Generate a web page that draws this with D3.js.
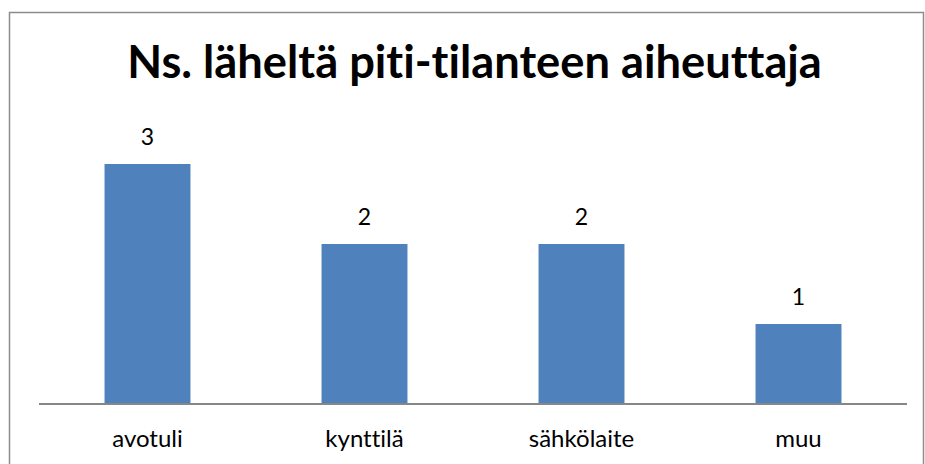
<!DOCTYPE html>
<html><head><meta charset="utf-8">
<script src="https://cdn.jsdelivr.net/npm/d3@7"></script>
<style>body{margin:0;background:#fff}svg{display:block}text{font-variant-ligatures:none;font-feature-settings:"liga" 0,"clig" 0}</style>
</head><body>
<script>
const title = "Ns. läheltä piti-tilanteen aiheuttaja";
const categories = ["avotuli", "kynttilä", "sähkölaite", "muu"];
const values = [3, 2, 2, 1];

const W = 925, H = 464;
const FONT = "Lato, 'Open Sans', sans-serif";
const svg = d3.select("body").append("svg").attr("width", W).attr("height", H);

// outer frame
svg.append("rect").attr("x", 9.5).attr("y", 12.5).attr("width", 914).attr("height", 470)
  .attr("fill", "#fff").attr("stroke", "#8c8c8c").attr("stroke-width", 1.5);

const x = d3.scaleBand().domain(categories).range([39, 907]).paddingInner(0.604).paddingOuter(0.302);
const y = d3.scaleLinear().domain([0, 3]).range([404, 164]);

svg.selectAll("rect.bar").data(values).join("rect").attr("class", "bar")
  .attr("x", (d, i) => x(categories[i])).attr("width", x.bandwidth())
  .attr("y", d => y(d)).attr("height", d => y(0) - y(d))
  .attr("fill", "#4F81BD");

svg.selectAll("text.val").data(values).join("text").attr("class", "val")
  .attr("x", (d, i) => x(categories[i]) + x.bandwidth() / 2)
  .attr("y", d => y(d) - 19)
  .attr("text-anchor", "middle")
  .attr("font-family", FONT).attr("font-size", 23).attr("fill", "#000")
  .text(d => d);

const axis = svg.append("g").attr("transform", "translate(0,404)")
  .call(d3.axisBottom(x).tickSize(0).tickPadding(0));
axis.select(".domain").attr("stroke", "#868686").attr("stroke-width", 2).attr("d", "M39,0H907");
axis.selectAll(".tick text").attr("dy", null).attr("y", 43)
  .attr("font-family", FONT).attr("font-size", 24).attr("fill", "#000");

const t = svg.append("text").attr("x", 474.5).attr("y", 78).attr("text-anchor", "middle")
  .attr("font-family", FONT).attr("font-weight", "bold")
  .attr("font-size", 40).attr("fill", "#000").text(title);
// fit the title to the reference width
const tw = t.node().getComputedTextLength();
t.attr("font-size", 40 * 695 / tw);
</script>
</body></html>
